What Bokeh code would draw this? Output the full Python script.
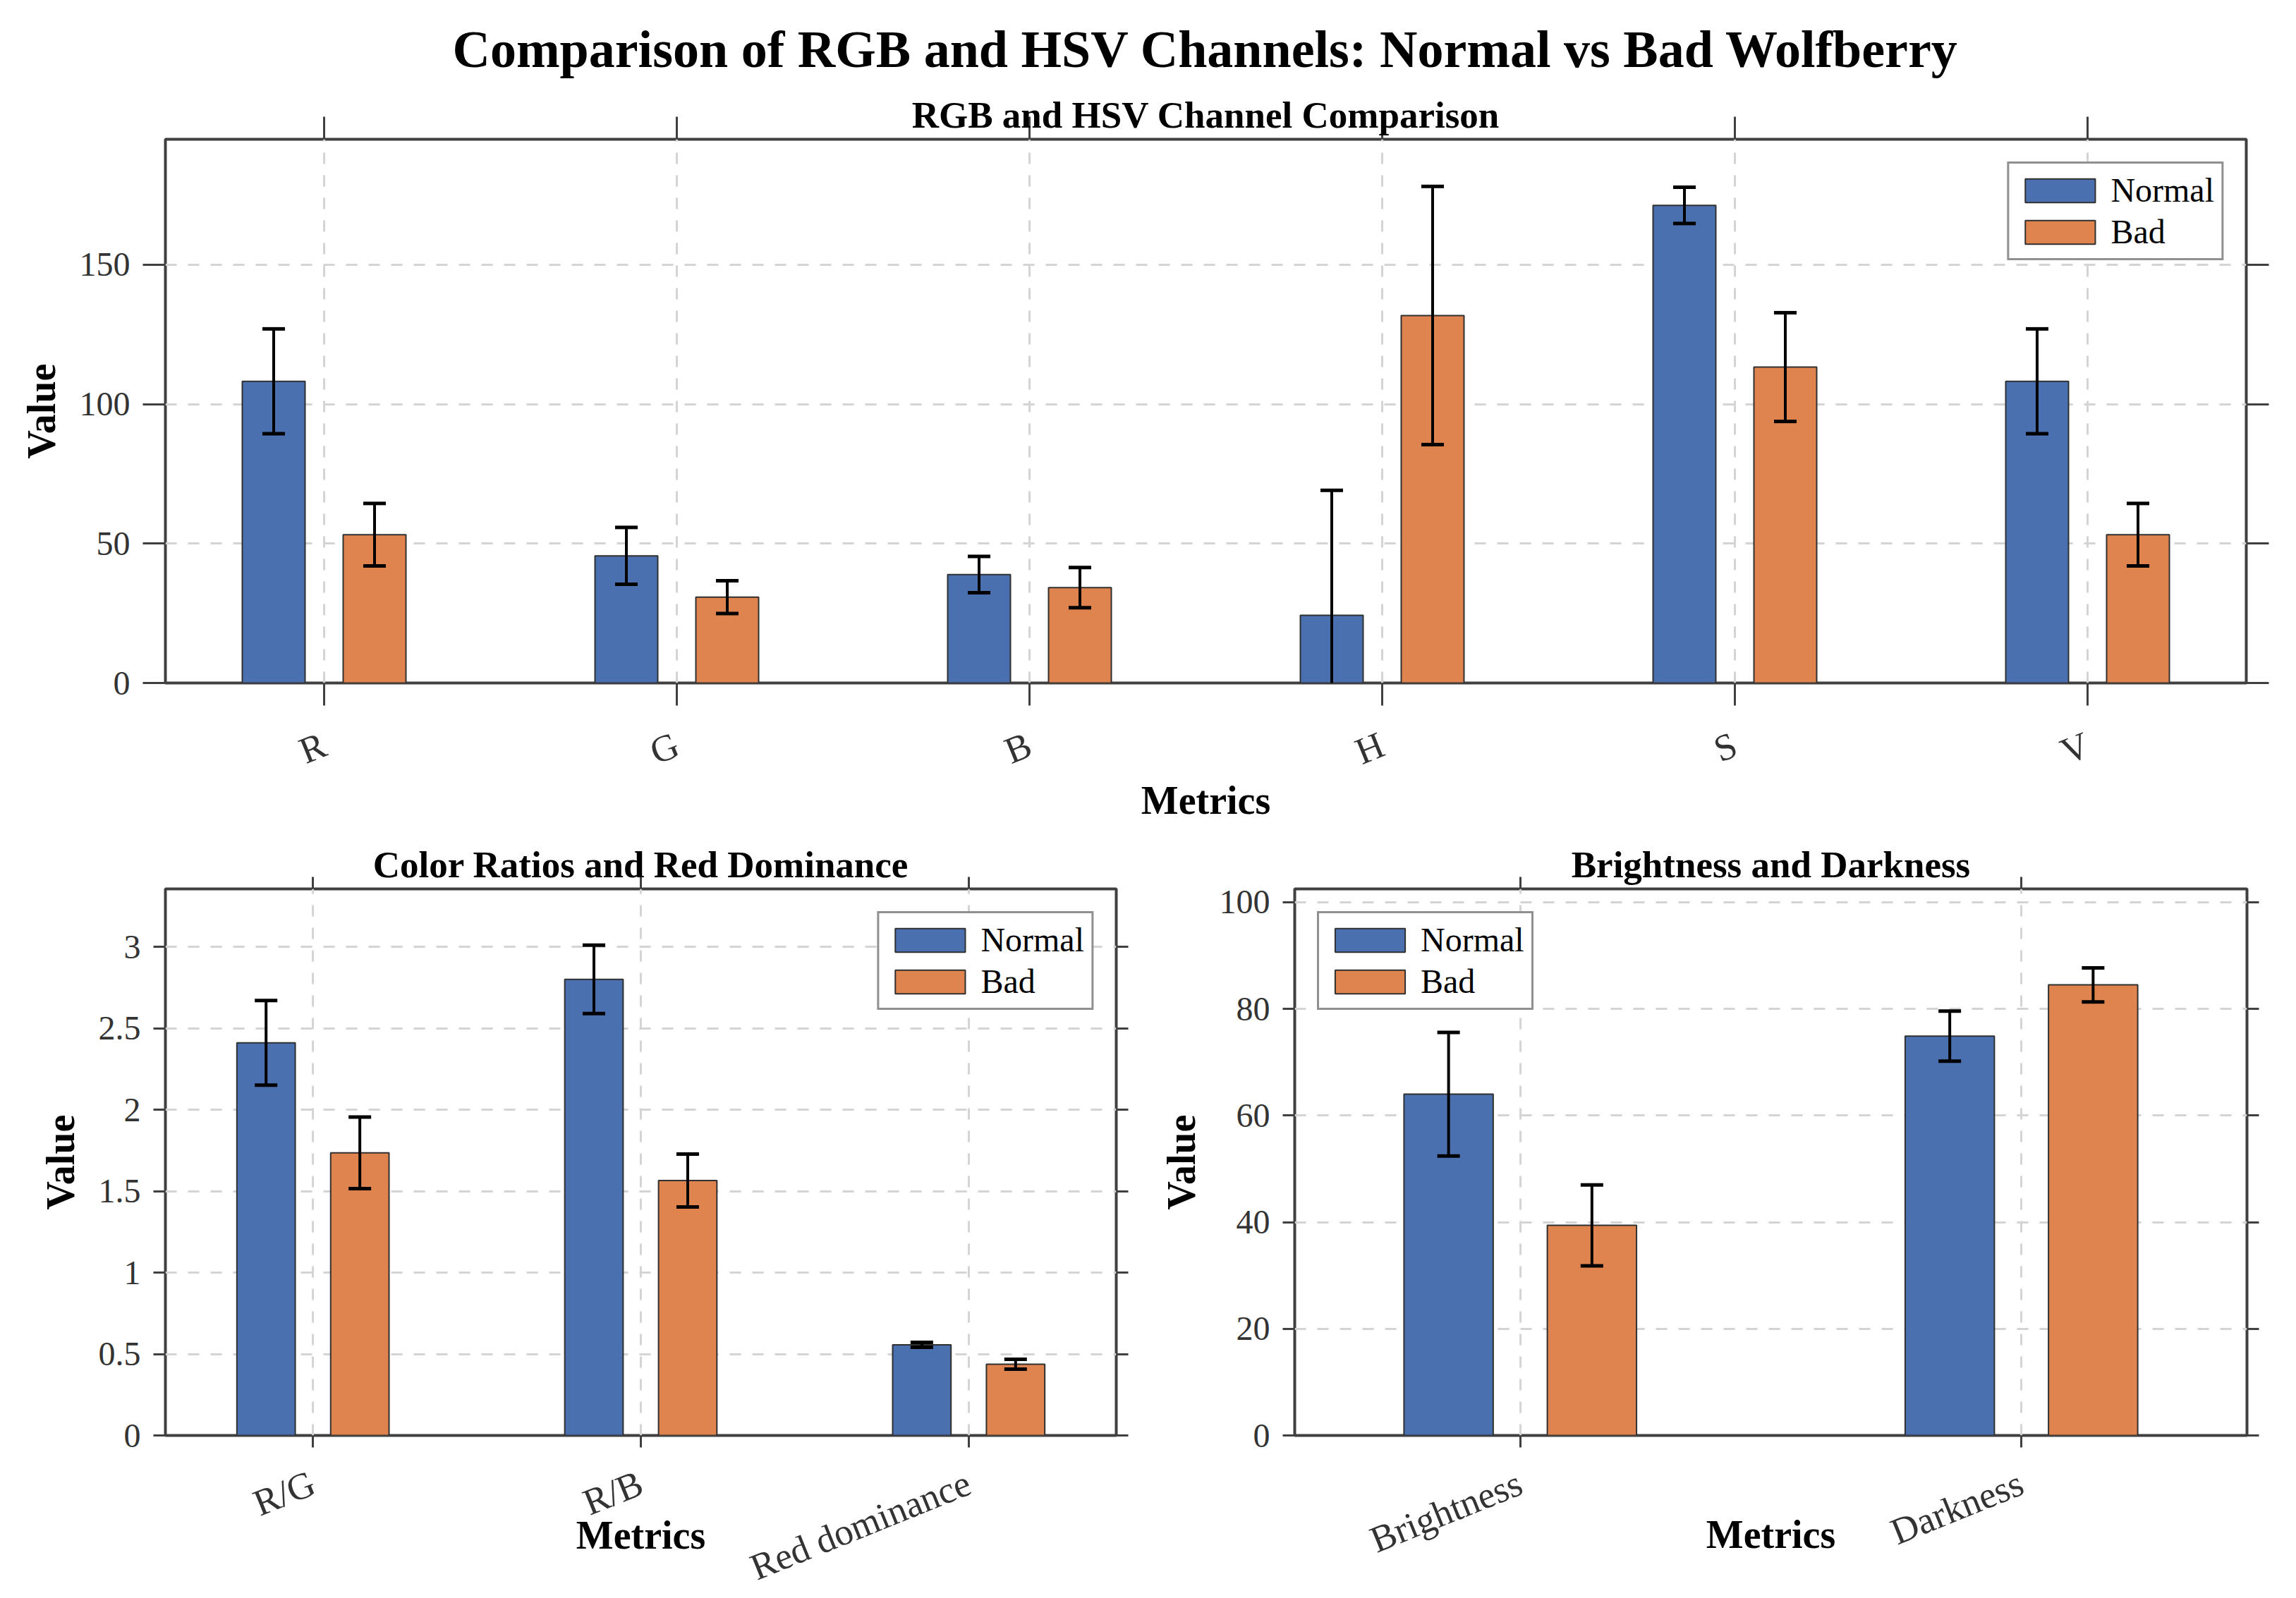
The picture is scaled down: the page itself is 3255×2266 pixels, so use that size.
import math
from bokeh.plotting import figure
from bokeh.models import (Range1d, FixedTicker, LinearAxis, Title, ColumnDataSource,
                          CustomJSTickFormatter)
from bokeh.transform import dodge
from bokeh.layouts import column, row
from bokeh.embed import file_html
from bokeh.resources import INLINE

# ---------------- data ----------------
rgbhsv_metrics = ["R", "G", "B", "H", "S", "V"]
rgbhsv_normal = [108.2, 45.6, 38.9, 24.3, 171.3, 108.2]
rgbhsv_normal_err = [18.8, 10.2, 6.5, 44.8, 6.5, 18.8]
rgbhsv_bad = [53.2, 30.8, 34.2, 131.8, 113.3, 53.2]
rgbhsv_bad_err = [11.2, 5.9, 7.2, 46.3, 19.5, 11.2]
rgbhsv_yticks = [0, 50, 100, 150]

ratio_metrics = ["R/G", "R/B", "Red dominance"]
ratio_normal = [2.41, 2.80, 0.556]
ratio_normal_err = [0.26, 0.21, 0.015]
ratio_bad = [1.735, 1.565, 0.437]
ratio_bad_err = [0.22, 0.162, 0.03]
ratio_yticks = [0, 0.5, 1, 1.5, 2, 2.5, 3]

bd_metrics = ["Brightness", "Darkness"]
bd_normal = [64.0, 74.9]
bd_normal_err = [11.6, 4.7]
bd_bad = [39.4, 84.5]
bd_bad_err = [7.6, 3.2]
bd_yticks = [0, 20, 40, 60, 80, 100]

MAIN_TITLE = "Comparison of RGB and HSV Channels: Normal vs Bad Wolfberry"

# ---------------- style ----------------
FONT = "Liberation Serif"
BLUE = "#4A70B0"
ORANGE = "#E0844F"
EDGE = "#303030"
AXC = "#404040"
GRID = "#d4d4d4"
OFF = 0.143
BAR_W = 0.178


def make_panel(metrics, normal, nerr, bad, berr, yticks, ymax, sub_title,
               W, H, mbl, mbr, mbt, mbb, tick_len, legend_loc,
               xl_standoff, xal_standoff, main_title=None):
    n = len(metrics)
    idx = list(range(n))
    src = ColumnDataSource(dict(
        x=idx, normal=normal, bad=bad,
        n_lo=[v - e for v, e in zip(normal, nerr)],
        n_hi=[v + e for v, e in zip(normal, nerr)],
        b_lo=[v - e for v, e in zip(bad, berr)],
        b_hi=[v + e for v, e in zip(bad, berr)],
    ))
    p = figure(width=W, height=H, x_range=Range1d(-0.45, n - 1 + 0.45),
               y_range=Range1d(0, ymax), output_backend="svg",
               toolbar_location=None, title=None,
               min_border_left=mbl, min_border_right=mbr,
               min_border_top=mbt, min_border_bottom=mbb)
    p.background_fill_color = "white"
    p.border_fill_color = "white"
    p.outline_line_color = AXC
    p.outline_line_width = 4

    # grid
    p.xgrid.ticker = FixedTicker(ticks=idx)
    p.ygrid.ticker = FixedTicker(ticks=yticks)
    for g in (p.xgrid, p.ygrid):
        g.grid_line_color = GRID
        g.grid_line_dash = "16 16"
        g.grid_line_width = 3

    # bars
    p.vbar(x=dodge("x", -OFF), top="normal", width=BAR_W, source=src,
           fill_color=BLUE, line_color=EDGE, line_width=2, legend_label="Normal")
    p.vbar(x=dodge("x", OFF), top="bad", width=BAR_W, source=src,
           fill_color=ORANGE, line_color=EDGE, line_width=2, legend_label="Bad")

    # error bars
    for off, lo, hi in ((-OFF, "n_lo", "n_hi"), (OFF, "b_lo", "b_hi")):
        p.segment(x0=dodge("x", off), y0=lo, x1=dodge("x", off), y1=hi,
                  source=src, line_color="black", line_width=4)
        for col in (lo, hi):
            p.scatter(x=dodge("x", off), y=col, marker="dash", size=32,
                      source=src, line_color="black", line_width=5)

    # bottom axis
    xa = p.below[0]
    xa.ticker = FixedTicker(ticks=idx)
    xa.major_label_overrides = {i: m for i, m in enumerate(metrics)}
    xa.major_label_orientation = math.radians(22)
    xa.axis_label = "Metrics"
    xa.axis_label_text_font = FONT
    xa.axis_label_text_font_style = "bold"
    xa.axis_label_text_font_size = "56px"
    xa.axis_label_text_color = "black"
    xa.axis_label_standoff = xal_standoff
    xa.major_label_text_font = FONT
    xa.major_label_text_font_size = "53px"
    xa.major_label_text_color = "#333333"
    xa.major_label_standoff = xl_standoff

    # left axis
    ya = p.left[0]
    ya.ticker = FixedTicker(ticks=yticks)
    ya.formatter = CustomJSTickFormatter(code="return String(tick)")
    ya.axis_label = "Value"
    ya.axis_label_text_font = FONT
    ya.axis_label_text_font_style = "bold"
    ya.axis_label_text_font_size = "56px"
    ya.axis_label_text_color = "black"
    ya.axis_label_standoff = 20
    ya.major_label_text_font = FONT
    ya.major_label_text_font_size = "48px"
    ya.major_label_text_color = "#333333"
    ya.major_label_standoff = 18

    for ax in (xa, ya):
        ax.axis_line_color = None
        ax.major_tick_out = tick_len
        ax.major_tick_in = 0
        ax.minor_tick_out = 0
        ax.minor_tick_in = 0
        ax.major_tick_line_color = AXC
        ax.major_tick_line_width = 3

    # mirrored ticks on top and right (no labels)
    ta = LinearAxis(ticker=FixedTicker(ticks=idx),
                    formatter=CustomJSTickFormatter(code="return ''"))
    ra = LinearAxis(ticker=FixedTicker(ticks=yticks),
                    formatter=CustomJSTickFormatter(code="return ''"))
    for ax in (ta, ra):
        ax.axis_line_color = None
        ax.major_tick_out = 0
        ax.major_tick_in = -tick_len
        ax.minor_tick_out = 0
        ax.minor_tick_in = 0
        ax.major_tick_line_color = AXC
        ax.major_tick_line_width = 3
        ax.major_label_standoff = 0
        ax.major_label_text_font_size = "1px"
    p.add_layout(ta, "above")
    p.add_layout(ra, "right")

    # titles
    p.add_layout(Title(text=sub_title, align="center", text_font=FONT,
                       text_font_size="53px", text_font_style="bold",
                       text_color="black", standoff=11), "above")
    if main_title:
        p.add_layout(Title(text=main_title, align="center", text_font=FONT,
                           text_font_size="74px", text_font_style="bold",
                           text_color="black", standoff=31), "above")

    # legend
    lg = p.legend[0]
    lg.location = legend_loc
    lg.margin = 32
    lg.padding = 10
    lg.spacing = 4
    lg.glyph_width = 124
    lg.glyph_height = 42
    lg.label_standoff = 10
    lg.label_text_font = FONT
    lg.label_text_font_size = "48px"
    lg.label_text_color = "black"
    lg.border_line_color = "#222222"
    lg.border_line_width = 3
    lg.background_fill_alpha = 1
    return p


p_top = make_panel(rgbhsv_metrics, rgbhsv_normal, rgbhsv_normal_err, rgbhsv_bad,
                   rgbhsv_bad_err, rgbhsv_yticks, 195, "RGB and HSV Channel Comparison",
                   W=3240, H=1168, mbl=234, mbr=56, mbt=197, mbb=196, tick_len=32,
                   legend_loc="top_right", xl_standoff=53, xal_standoff=-21,
                   main_title=MAIN_TITLE)

p_bl = make_panel(ratio_metrics, ratio_normal, ratio_normal_err, ratio_bad,
                  ratio_bad_err, ratio_yticks, 3.355, "Color Ratios and Red Dominance",
                  W=1640, H=1082, mbl=234, mbr=58, mbt=92, mbb=215, tick_len=17,
                  legend_loc="top_right", xl_standoff=48, xal_standoff=-135)

p_br = make_panel(bd_metrics, bd_normal, bd_normal_err, bd_bad, bd_bad_err,
                  bd_yticks, 102.5, "Brightness and Darkness",
                  W=1600, H=1082, mbl=189, mbr=55, mbt=92, mbb=215, tick_len=17,
                  legend_loc="top_left", xl_standoff=48, xal_standoff=-97)

layout = column(p_top, row(p_bl, p_br, spacing=0), spacing=0)

with open("out.html", "w") as f:
    f.write(file_html(layout, INLINE, title="Wolfberry channel comparison"))
